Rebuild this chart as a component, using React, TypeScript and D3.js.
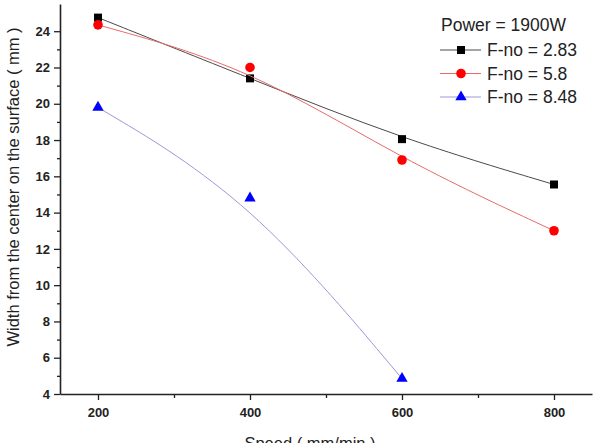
import React, { useEffect, useRef } from "react";
import {
  select,
  scaleLinear,
  axisBottom,
  axisLeft,
  line,
  curveBasis,
  range,
  symbol,
  symbolSquare,
  symbolCircle,
  symbolTriangle,
} from "d3";

const speeds: number[] = [200, 400, 600, 800];
const fno283: number[] = [24.75, 21.4, 18.05, 15.55];
const fno58: number[] = [24.35, 22.0, 16.9, 13.0];
const fno848: number[] = [19.8, 14.8, 4.85];
const legendTitle = "Power = 1900W";

const series = [
  { name: "F-no = 2.83", values: fno283, line: "#4a4a4a", fill: "#000000", shape: symbolSquare, size: 64 },
  { name: "F-no = 5.8", values: fno58, line: "#e86a6a", fill: "#ff0000", shape: symbolCircle, size: 72 },
  { name: "F-no = 8.48", values: fno848, line: "#9a9ad8", fill: "#0000ff", shape: symbolTriangle, size: 56 },
];

const WIDTH = 595;
const HEIGHT = 443;
const FONT = "'Liberation Sans', Arial, sans-serif";

const App: React.FC = () => {
  const svgRef = useRef<SVGSVGElement>(null);

  useEffect(() => {
    const svg = select(svgRef.current);
    svg.selectAll("*").remove();

    const x = scaleLinear().domain([150, 850]).range([60, 592]);
    const y = scaleLinear().domain([4, 25.5]).range([394, 4]);

    // minor ticks first so the major ones draw on top
    const minorX = svg
      .append("g")
      .attr("transform", "translate(0,394)")
      .call(axisBottom(x).tickValues([300, 500, 700]).tickSize(4).tickFormat(() => ""));
    minorX.select(".domain").remove();
    const minorY = svg
      .append("g")
      .attr("transform", "translate(60,0)")
      .call(axisLeft(y).tickValues(range(5, 25, 2)).tickSize(3).tickFormat(() => ""));
    minorY.select(".domain").remove();

    const gx = svg
      .append("g")
      .attr("transform", "translate(0,394)")
      .call(axisBottom(x).tickValues([200, 400, 600, 800]).tickSize(6).tickSizeOuter(0).tickPadding(8));
    const gy = svg
      .append("g")
      .attr("transform", "translate(60,0)")
      .call(axisLeft(y).tickValues(range(4, 25, 2)).tickSize(6).tickSizeOuter(0).tickPadding(4));

    svg.selectAll(".domain").attr("stroke", "#222").attr("stroke-width", 1.6);
    svg.selectAll(".tick line").attr("stroke", "#222").attr("stroke-width", 1.3);
    [gx, gy].forEach((g) =>
      g
        .selectAll("text")
        .attr("font-family", FONT)
        .attr("font-size", 13)
        .attr("font-weight", "bold")
        .attr("fill", "#222")
    );

    series.forEach((s) => {
      const pts = s.values.map((v, i) => [speeds[i], v] as [number, number]);
      svg
        .append("path")
        .datum(pts)
        .attr("fill", "none")
        .attr("stroke", s.line)
        .attr("stroke-width", 1)
        .attr(
          "d",
          line<[number, number]>()
            .x((d) => x(d[0]))
            .y((d) => y(d[1]))
            .curve(curveBasis)
        );
      svg
        .selectAll(null)
        .data(pts)
        .join("path")
        .attr("d", symbol().type(s.shape).size(s.size)())
        .attr("transform", (d) => `translate(${x(d[0])},${y(d[1])})`)
        .attr("fill", s.fill);
    });

    // legend
    const lg = svg.append("g").attr("font-family", FONT).attr("font-size", 17.5).attr("fill", "#222");
    lg.append("text").attr("x", 441).attr("y", 31).text(legendTitle);
    series.forEach((s, i) => {
      const ly = 50 + i * 23.5;
      lg.append("line")
        .attr("x1", 440)
        .attr("x2", 481)
        .attr("y1", ly)
        .attr("y2", ly)
        .attr("stroke", s.line)
        .attr("stroke-width", 1);
      lg.append("path")
        .attr("d", symbol().type(s.shape).size(s.size)())
        .attr("transform", `translate(461,${ly})`)
        .attr("fill", s.fill);
      lg.append("text").attr("x", 487).attr("y", ly + 6.3).text(s.name);
    });

    svg
      .append("text")
      .attr("x", 310)
      .attr("y", 449)
      .attr("text-anchor", "middle")
      .attr("font-family", FONT)
      .attr("font-size", 16.5)
      .attr("fill", "#222")
      .text("Speed ( mm/min )");
    svg
      .append("text")
      .attr("transform", "translate(19,187) rotate(-90)")
      .attr("text-anchor", "middle")
      .attr("font-family", FONT)
      .attr("font-size", 16.5)
      .attr("fill", "#222")
      .text("Width from the center on the surface ( mm )");
  }, []);

  return (
    <svg
      ref={svgRef}
      width={WIDTH}
      height={HEIGHT}
      style={{ position: "absolute", left: 0, top: 0, background: "white" }}
    />
  );
};

export default App;
